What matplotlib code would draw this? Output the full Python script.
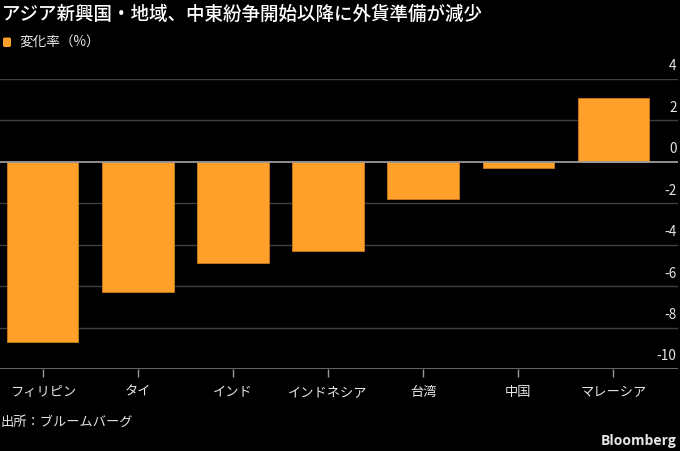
import matplotlib
matplotlib.use("Agg")
import matplotlib.pyplot as plt
from matplotlib.patches import FancyBboxPatch
import matplotlib.transforms as mtransforms

plt.rcParams['font.family'] = ['Noto Sans CJK JP', 'DejaVu Sans']

categories = ["フィリピン", "タイ", "インド", "インドネシア", "台湾", "中国", "マレーシア"]
values = [-8.7, -6.3, -4.9, -4.3, -1.8, -0.3, 3.1]
yticks = [4, 2, 0, -2, -4, -6, -8, -10]
title = "アジア新興国・地域、中東紛争開始以降に外貨準備が減少"
legend_label = "変化率（%）"
source = "出所：ブルームバーグ"

BG = "#000000"
BAR = "#FFA02B"
TXT = "#E6E6E6"

W, H = 680, 451
fig = plt.figure(figsize=(W / 100, H / 100), dpi=100, facecolor=BG)

# axes: x from 0 to 678 px, y from 79 px (value 4) to 369 px (value -10)
ax = fig.add_axes([0 / W, 1 - 369 / H, 678 / W, (369 - 79) / H], facecolor=BG)

x = list(range(len(categories)))
ax.set_xlim(-0.45, 6.68)
ax.set_ylim(-10, 4)

for t in yticks:
    if t == 0:
        ax.axhline(t, color="#9a9a9a", lw=1.3, zorder=3)
    elif t == -10:
        ax.axhline(t, color="#7a7a7a", lw=1.2, zorder=1)
    else:
        ax.axhline(t, color="#404040", lw=1.0, zorder=1)

ax.bar(x, values, width=0.75, color=BAR, edgecolor="#C87A1E", linewidth=0.6, zorder=2)

for s in ax.spines.values():
    s.set_visible(False)

ax.set_yticks([])
ax.set_xticks(x)
ax.set_xticklabels(categories, fontsize=9.5, color=TXT)
ax.tick_params(axis="x", length=6, width=1, color="#9a9a9a", pad=6)

trans = mtransforms.blended_transform_factory(ax.transAxes, ax.transData)
off = mtransforms.offset_copy(trans, fig=fig, x=-1, y=4, units="points")
for t in yticks:
    ax.text(1.0, t, f"{t}", transform=off, ha="right", va="bottom",
            fontsize=9.8, color=TXT)

fig.text(2 / W, 1 - 14 / H, title, ha="left", va="center", fontsize=13.3,
         color="#FFFFFF", fontweight="medium")

sq = FancyBboxPatch((3 / W, 1 - 47 / H), 8 / W, 9.5 / H,
                    boxstyle="round,pad=0,rounding_size=0.003",
                    transform=fig.transFigure, facecolor=BAR, edgecolor="none")
fig.patches.append(sq)
fig.text(19 / W, 1 - 43 / H, legend_label, ha="left", va="center",
         fontsize=9.8, color=TXT)

fig.text(1 / W, 1 - 422 / H, source, ha="left", va="center", fontsize=9.5, color=TXT)
fig.text(676 / W, 1 - 441 / H, "Bloomberg", ha="right", va="center",
         fontsize=10, color=TXT, fontweight="bold", family=["Open Sans", "DejaVu Sans"])

fig.savefig("out.png", dpi=100, facecolor=BG)
